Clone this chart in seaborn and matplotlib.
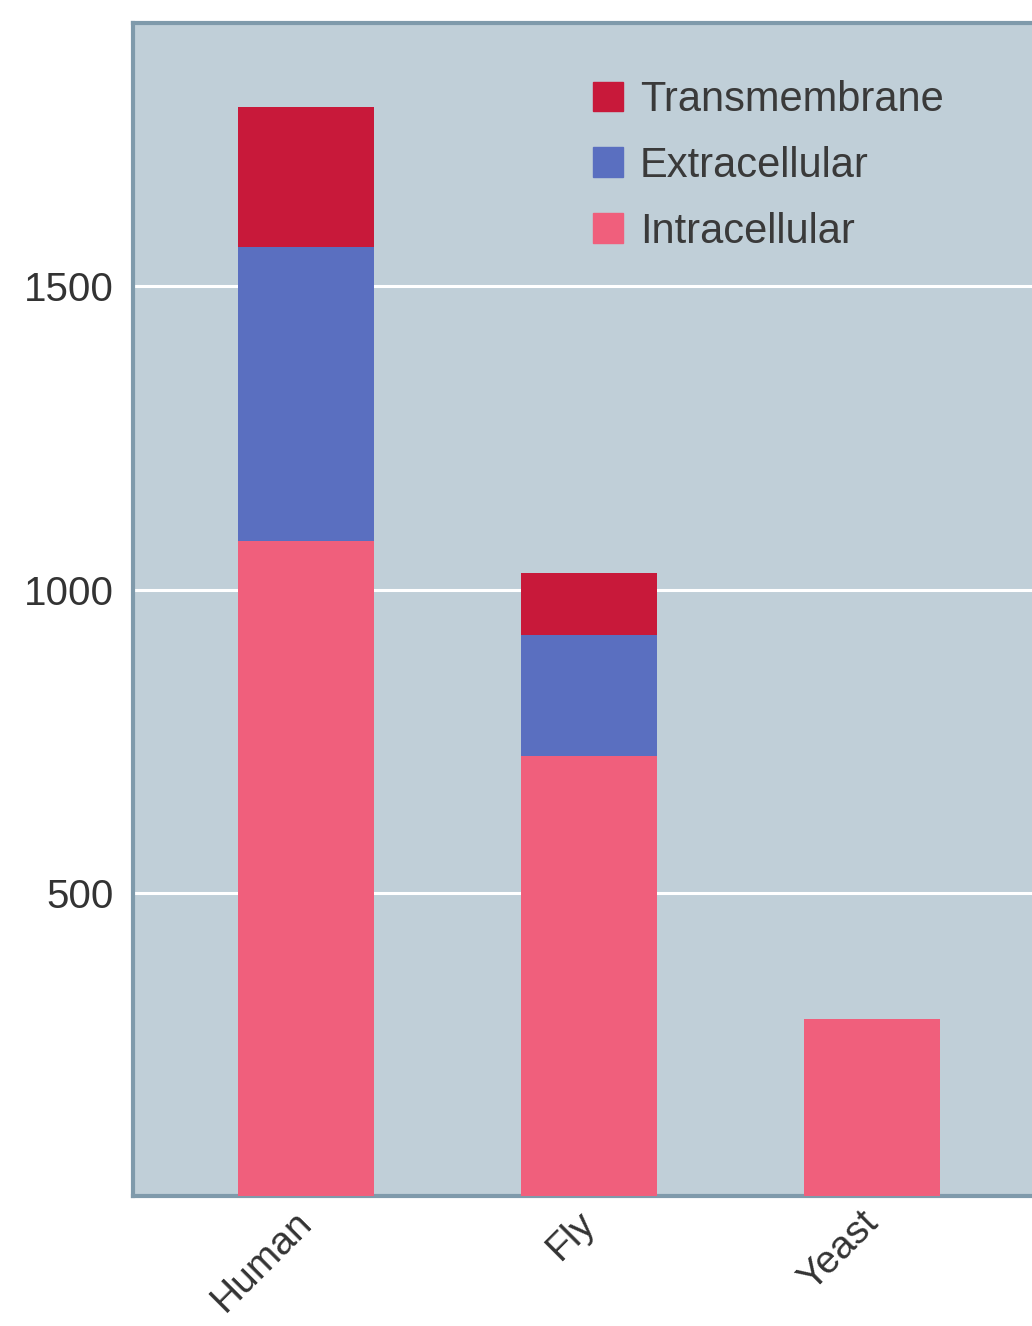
import matplotlib
matplotlib.use("Agg")
import matplotlib.pyplot as plt
import matplotlib.transforms as mtrans
import seaborn as sns
import pandas as pd
from matplotlib.patches import Patch

# values
organisms = ["Human", "Fly", "Yeast"]
intracellular = [1080, 725, 292]
extracellular = [485, 200, 0]
transmembrane = [230, 103, 0]
yticks = [500, 1000, 1500]

c_trans = "#c8193a"
c_extra = "#5a6fc0"
c_intra = "#f05f7c"
bg = "#c0cfd8"
spine_col = "#7f9aab"

df = pd.DataFrame({"organism": organisms,
                   "intra": intracellular,
                   "extra": extracellular,
                   "trans": transmembrane})
df["lvl2"] = df["intra"] + df["extra"]
df["lvl3"] = df["lvl2"] + df["trans"]

sns.set_style("white")
plt.rcParams["font.family"] = ["Liberation Sans", "DejaVu Sans"]

fig = plt.figure(figsize=(10.32, 13.26), dpi=100)
ax = fig.add_axes([0.129, 0.098, 0.871, 0.885])
ax.set_facecolor(bg)

# stacked bars: draw cumulative totals from top layer down
for col, colr in [("lvl3", c_trans), ("lvl2", c_extra), ("intra", c_intra)]:
    sns.barplot(data=df, x="organism", y=col, color=colr, width=0.48,
                saturation=1, linewidth=0, ax=ax, zorder=3)

ax.set_ylim(0, 1935)
ax.set_xlim(-0.61, 2.565)
ax.set_yticks(yticks)
ax.yaxis.grid(True, color="white", linewidth=2.2, zorder=0)
ax.set_axisbelow(True)
ax.tick_params(axis="y", length=0, labelsize=29, colors="#333333", pad=14)
ax.tick_params(axis="x", length=0, labelsize=28, colors="#333333", pad=6)
shift = mtrans.ScaledTranslation(-12 / 100, 0, fig.dpi_scale_trans)
for lab in ax.get_xticklabels():
    lab.set_rotation(45)
    lab.set_ha("right")
    lab.set_rotation_mode("anchor")
    lab.set_transform(lab.get_transform() + shift)
ax.set_xlabel("")
ax.set_ylabel("")

for side in ["left", "bottom", "top"]:
    ax.spines[side].set_color(spine_col)
    ax.spines[side].set_linewidth(3)
ax.spines["right"].set_visible(False)

handles = [Patch(color=c_trans, label="Transmembrane"),
           Patch(color=c_extra, label="Extracellular"),
           Patch(color=c_intra, label="Intracellular")]
ax.legend(handles=handles, loc="upper left", bbox_to_anchor=(0.512, 0.951),
          frameon=False, fontsize=30, handlelength=0.72, handleheight=0.72,
          labelspacing=0.62, handletextpad=0.4, borderpad=0, borderaxespad=0,
          labelcolor="#3a3a3a")

fig.savefig("out.png", dpi=100, facecolor="white")
